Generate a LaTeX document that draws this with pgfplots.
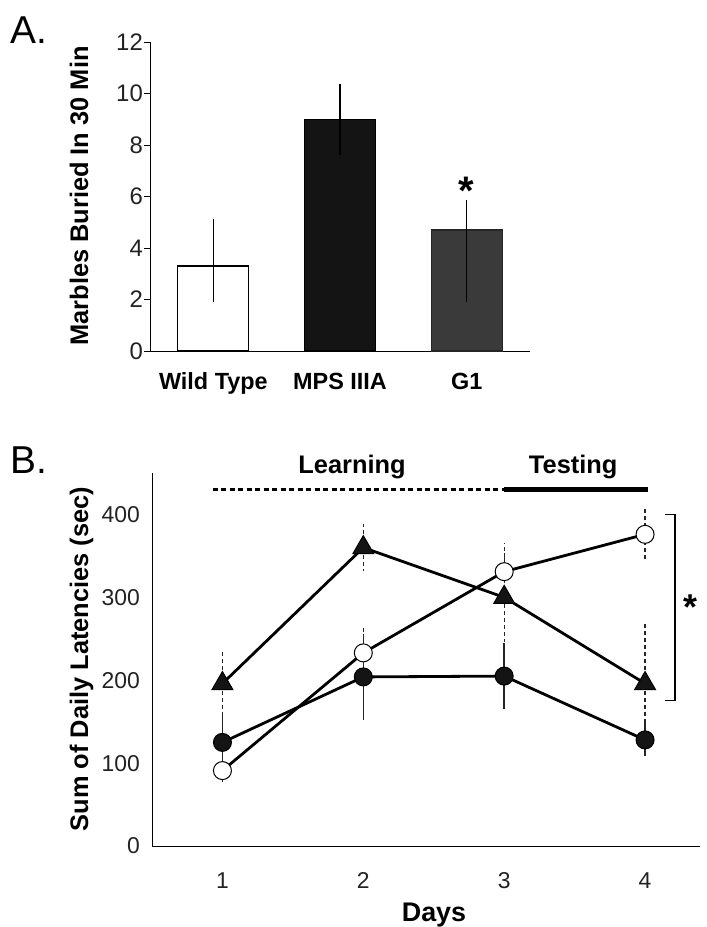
\documentclass[border=0pt]{standalone}
\usepackage{pgfplots}
\pgfplotsset{compat=1.18}
\usepackage{fontspec}
\setmainfont{Liberation Sans}
\definecolor{mpsblack}{HTML}{141414}
\definecolor{gonegray}{HTML}{3A3A3A}
\definecolor{ticktext}{HTML}{222222}
\begin{document}
\begin{tikzpicture}
\useasboundingbox (0,0) rectangle (707bp,-927bp);

% ---------------- Panel A ----------------
\begin{axis}[
  at={(150bp,-351bp)}, anchor=south west,
  scale only axis, width=380bp, height=309bp,
  xmin=-0.5, xmax=2.5, ymin=0, ymax=12,
  axis x line*=bottom, axis y line*=left,
  axis line style={line width=1bp, black},
  ytick={0,2,...,12}, xtick={0,1,2},
  xticklabels={Wild Type, MPS IIIA, G1},
  tick align=outside, major tick length=6bp,
  ytick style={line width=1bp, black},
  xtick style={draw=none},
  /pgf/number format/assume math mode=true,
  yticklabel style={font=\fontsize{24}{28}\selectfont, text=ticktext, anchor=east, inner sep=1bp},
  xticklabel style={font=\bfseries\fontsize{23.5}{27}\selectfont, anchor=base, inner sep=0pt, yshift=-32bp},
  ybar, bar width=0.56,
  clip=false,
]
\addplot[bar shift=0pt, fill=white, draw=black, line width=1.2bp,
  error bars/.cd, y dir=both, y explicit, error mark=none,
  error bar style={line width=1.1bp, black}]
  coordinates {(0,3.3) += (0,1.83) -= (0,1.4)};
\addplot[bar shift=0pt, fill=mpsblack, draw=black, line width=1.2bp,
  error bars/.cd, y dir=both, y explicit, error mark=none,
  error bar style={line width=1.1bp, black}]
  coordinates {(1,9.0) += (0,1.37) -= (0,1.37)};
\addplot[bar shift=0pt, fill=gonegray, draw=black!85, line width=1.2bp,
  error bars/.cd, y dir=both, y explicit, error mark=none,
  error bar style={line width=1.1bp, black}]
  coordinates {(2,4.7) += (0,1.17) -= (0,2.8)};
\node[anchor=north, inner sep=0pt, font=\bfseries\fontsize{40}{44}\selectfont] at (axis cs:2,6.76) {*};
\end{axis}

% ---------------- Panel B ----------------
\begin{axis}[
  at={(152bp,-846bp)}, anchor=south west,
  scale only axis, width=548bp, height=373bp,
  xmin=0.5, xmax=4.39, ymin=0, ymax=450,
  axis x line*=bottom, axis y line*=left,
  axis line style={line width=1bp, black},
  xtick={1,2,3,4}, ytick={0,100,200,300,400},
  major tick length=0pt,
  /pgf/number format/assume math mode=true,
  yticklabel style={font=\fontsize{23}{27}\selectfont, text=ticktext, anchor=east, inner sep=0pt, xshift=-12bp},
  xticklabel style={font=\fontsize{23}{27}\selectfont, text=ticktext, anchor=base, inner sep=0pt, yshift=-42bp},
  clip=false,
]
% period bars
\draw[line width=3.5bp, dash pattern=on 5bp off 3.5bp] (axis cs:0.93,430) -- (axis cs:3,430);
\draw[line width=5bp] (axis cs:3,430) -- (axis cs:4.02,430);
\node[anchor=base, inner sep=0pt, font=\bfseries\fontsize{25.5}{30}\selectfont] at (axis cs:1.92,449) {Learning};
\node[anchor=base, inner sep=0pt, font=\bfseries\fontsize{25.5}{30}\selectfont] at (axis cs:3.49,449) {Testing};
% significance bracket
\draw[line width=1.2bp] (axis cs:4.142,400) -- (axis cs:4.213,400) -- (axis cs:4.213,176) -- (axis cs:4.142,176);
\node[anchor=north, inner sep=0pt, font=\bfseries\fontsize{36}{40}\selectfont] at (axis cs:4.32,303.5) {*};

% filled circles
\addplot[line width=2.8bp, black, mark=*, mark size=9bp,
  mark options={solid, fill=black!92, line width=1bp},
  error bars/.cd, y dir=both, y explicit, error mark=none,
  error bar style={line width=1.6bp, black!85, solid}]
  coordinates {(1,125) +- (0,37) (2,204) +- (0,52) (3,205) +- (0,40) (4,128) +- (0,20)};
% triangles
\addplot[line width=2.8bp, black, mark=triangle*, mark size=12bp,
  mark options={solid, fill=black!92, line width=1bp},
  error bars/.cd, y dir=both, y explicit, error mark=none,
  error bar style={line width=1.2bp, black!85, dash pattern=on 4bp off 3bp}]
  coordinates {(1,196) +- (0,41) (2,360) +- (0,28) (3,300) +- (0,54) (4,196) +- (0,76)};
% open circles
\addplot[line width=2.8bp, black, mark=*, mark size=9bp,
  mark options={solid, fill=white, line width=1bp},
  error bars/.cd, y dir=both, y explicit, error mark=none,
  error bar style={line width=1.2bp, black!85, dash pattern=on 4bp off 3bp}]
  coordinates {(1,91) +- (0,16) (2,233) +- (0,33) (3,331) +- (0,35) (4,376) +- (0,33)};
\end{axis}

% ---------------- free text ----------------
\node[anchor=base west, inner sep=0pt, font=\fontsize{39}{44}\selectfont] at (10bp,-43bp) {A.};
\node[anchor=base west, inner sep=0pt, font=\fontsize{39}{44}\selectfont] at (10bp,-473bp) {B.};
\node[rotate=90, anchor=base, inner sep=0pt, font=\bfseries\fontsize{25.5}{30}\selectfont] at (88bp,-196bp) {Marbles Buried In 30 Min};
\node[rotate=90, anchor=base, inner sep=0pt, font=\bfseries\fontsize{25.5}{30}\selectfont] at (88bp,-659bp) {Sum of Daily Latencies (sec)};
\node[anchor=base, inner sep=0pt, font=\bfseries\fontsize{27}{31}\selectfont] at (434bp,-921bp) {Days};
\end{tikzpicture}
\end{document}
